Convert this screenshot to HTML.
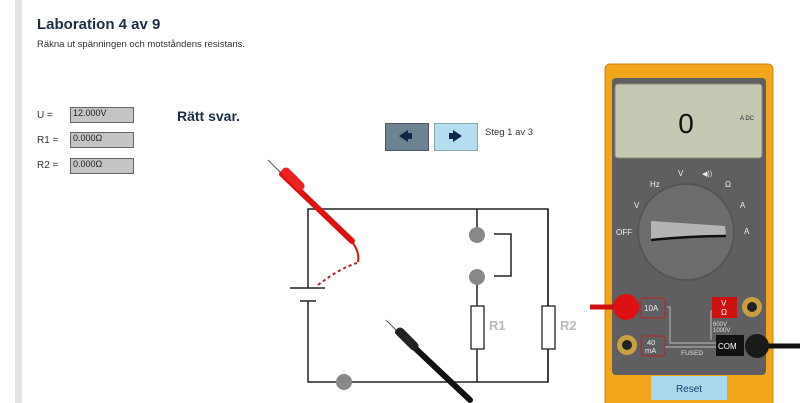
<!DOCTYPE html>
<html><head><meta charset="utf-8"><style>
body{margin:0;width:800px;height:403px;overflow:hidden;background:#fff;font-family:"Liberation Sans",sans-serif;position:relative}
.a{position:absolute}
.in{position:absolute;width:64px;height:16px;background:#c4c4c4;border:1px solid #666;font-size:9px;line-height:11px;padding-left:2px;box-sizing:border-box;color:#222}
.lb{position:absolute;font-size:10px;color:#333}
</style></head><body>
<div class="a" style="left:15px;top:0;width:7px;height:403px;background:#e4e4e4"></div>
<div class="a" style="left:37px;top:16px;font-size:15px;font-weight:bold;color:#1c2e45">Laboration 4 av 9</div>
<div class="a" style="left:37px;top:39px;font-size:9.5px;color:#333">Räkna ut spänningen och motståndens resistans.</div>
<div class="lb" style="left:37px;top:110px">U =</div>
<div class="lb" style="left:37px;top:135px">R1 =</div>
<div class="lb" style="left:37px;top:160px">R2 =</div>
<div class="in" style="left:70px;top:107px">12.000V</div>
<div class="in" style="left:70px;top:132px">0.000Ω</div>
<div class="in" style="left:70px;top:158px">0.000Ω</div>
<div class="a" style="left:177px;top:108px;font-size:14px;font-weight:bold;color:#1c2e45">Rätt svar.</div>
<div class="a" style="left:385px;top:123px;width:42px;height:26px;background:#6c8391;border:1px solid #556"></div>
<div class="a" style="left:434px;top:123px;width:42px;height:26px;background:#b6dcf0;border:1px solid #8aa"></div>
<div class="a" style="left:485px;top:127px;font-size:9.5px;color:#333">Steg 1 av 3</div>
<svg class="a" style="left:0;top:0" width="800" height="403">
<polygon points="399,136 408,130 408,142" fill="#0e2a4a"/><rect x="407" y="133" width="5" height="6" fill="#0e2a4a"/>
<polygon points="462,136 453,130 453,142" fill="#0e2a4a"/><rect x="449" y="133" width="5" height="6" fill="#0e2a4a"/>
<g stroke="#222" stroke-width="1.5" fill="none">
<path d="M308,288 V209 H548 V382 H308 V301"/>
<path d="M477,209 V234 M477,276 V306 M477,349 V382 M548,209 V306 M548,349 V382"/>
<path d="M494,234 H511 V276 H494"/>
<path d="M290,288 H325 M300,301 H316"/>
</g>
<rect x="471" y="306" width="13" height="43" fill="#fff" stroke="#222" stroke-width="1.3"/>
<rect x="542" y="306" width="13" height="43" fill="#fff" stroke="#222" stroke-width="1.3"/>
<circle cx="477" cy="235" r="8" fill="#888"/><circle cx="477" cy="277" r="8" fill="#888"/><circle cx="344" cy="382" r="8" fill="#888"/>
<text x="489" y="330" font-size="13" font-weight="bold" fill="#bbb">R1</text>
<text x="560" y="330" font-size="13" font-weight="bold" fill="#bbb">R2</text>
<path d="M350,240 Q360,250 358,262" stroke="#d11" stroke-width="2" fill="none"/>
<path d="M357,263 Q340,268 318,285" stroke="#a22" stroke-width="2" stroke-dasharray="3,3" fill="none"/>
<line x1="268" y1="160" x2="282" y2="174" stroke="#555"/>
<line x1="282" y1="174" x2="352" y2="241" stroke="#d11" stroke-width="6" stroke-linecap="round"/>
<line x1="286" y1="172" x2="300" y2="186" stroke="#e22" stroke-width="9" stroke-linecap="round"/>
<line x1="386" y1="320" x2="398" y2="332" stroke="#555"/>
<line x1="398" y1="332" x2="470" y2="400" stroke="#111" stroke-width="6" stroke-linecap="round"/>
<line x1="400" y1="332" x2="414" y2="346" stroke="#222" stroke-width="9" stroke-linecap="round"/>
<rect x="605" y="64" width="168" height="345" rx="5" fill="#f0a51a" stroke="#c88410"/>
<rect x="612" y="78" width="154" height="297" rx="4" fill="#5f5f62"/>
<rect x="615" y="84" width="147" height="74" rx="3" fill="#c5c9b4" stroke="#8a8a70"/>
<text x="686" y="133" font-size="28" text-anchor="middle" fill="#111">0</text>
<text x="740" y="120" font-size="6" fill="#222">A DC</text>
<circle cx="686" cy="232" r="48" fill="#6d6d70" stroke="#555" stroke-width="2"/>
<path d="M651,221 L725,226 L726,236 L651,240 Z" fill="#b4b4b4"/>
<path d="M651,240 Q690,236 726,236" stroke="#111" stroke-width="2.5" fill="none"/>
<g fill="#eee" font-size="8">
<text x="616" y="235">OFF</text><text x="634" y="208">V</text><text x="650" y="187">Hz</text>
<text x="678" y="176">V</text><text x="725" y="187">Ω</text><text x="740" y="208">A</text><text x="744" y="234">A</text>
<text x="702" y="176" font-size="7">◀))</text>
</g>
<circle cx="626" cy="307" r="13" fill="#d11"/>
<line x1="590" y1="307" x2="614" y2="307" stroke="#c11" stroke-width="5"/>
<rect x="640" y="298" width="25" height="20" rx="3" fill="#5f5f62" stroke="#b22"/>
<text x="644" y="311" font-size="8" fill="#eee">10A</text>
<rect x="712" y="297" width="25" height="21" fill="#c11"/>
<text x="721" y="306" font-size="8" fill="#fff">V</text><text x="721" y="315" font-size="8" fill="#fff">Ω</text>
<circle cx="752" cy="307" r="10" fill="#c9a040"/><circle cx="752" cy="307" r="5" fill="#222"/>
<circle cx="627" cy="345" r="10" fill="#c9a040"/><circle cx="627" cy="345" r="5" fill="#222"/>
<rect x="641" y="336" width="24" height="20" rx="3" fill="#5f5f62" stroke="#b22"/>
<text x="647" y="345" font-size="7.5" fill="#eee">40</text><text x="645" y="353" font-size="7.5" fill="#eee">mA</text>
<path d="M667,307 H670 V343 H716 M665,347 H716 M712,311 H711 V340" stroke="#bbb" fill="none"/>
<text x="681" y="355" font-size="6.5" fill="#ddd">FUSED</text>
<text x="713" y="326" font-size="6" fill="#ddd">600V</text><text x="713" y="332" font-size="6" fill="#ddd">1000V</text>
<rect x="716" y="335" width="28" height="21" fill="#111"/>
<text x="718" y="349" font-size="8" fill="#fff">COM</text>
<line x1="760" y1="346" x2="800" y2="346" stroke="#111" stroke-width="5"/>
<circle cx="757" cy="346" r="12" fill="#1a1a1a"/>
<rect x="651" y="376" width="76" height="24" fill="#a9d8ee"/>
<text x="689" y="392" font-size="10" text-anchor="middle" fill="#1c3e6a">Reset</text>
</svg>
</body></html>
